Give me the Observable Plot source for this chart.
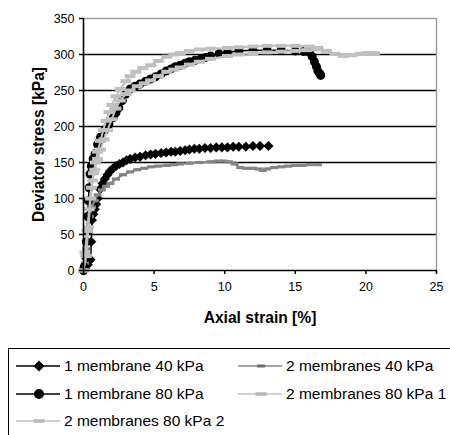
<!DOCTYPE html>
<html>
<head>
<meta charset="utf-8">
<script src="https://cdn.jsdelivr.net/npm/d3@7"></script>
<script src="https://cdn.jsdelivr.net/npm/@observablehq/plot@0.6"></script>
<style>
  html, body { margin: 0; padding: 0; background: #fff; }
  body { position: relative; width: 450px; height: 435px; overflow: hidden; font-family: "Liberation Sans", Arial, sans-serif; }
  #chart { position: absolute; left: 0; top: 0; }
  #legend { position: absolute; left: 8px; top: 348px; width: 470px; height: 110px; border: 1.5px solid #000; box-sizing: border-box; }
  .item { position: absolute; height: 20px; display: flex; align-items: center; font-size: 15.5px; color: #000; white-space: nowrap; }
  .item svg { margin-right: 4px; }
</style>
</head>
<body>
<div id="chart"></div>
<div id="legend"></div>
<script>
// ---- data ----
const seriesNames = ["1 membrane 40 kPa", "2 membranes 40 kPa", "1 membrane 80 kPa", "2 membranes 80 kPa 1", "2 membranes 80 kPa 2"];

const strainA = [0, 0.1, 0.3, 0.5, 0.55, 0.6, 0.7, 0.8, 0.9, 1.0, 1.17, 1.35, 1.5, 1.7, 1.88, 2.1, 2.3, 2.55, 2.8, 3.05, 3.3, 3.65, 4.0, 4.4, 4.75, 5.1, 5.5, 5.85, 6.2, 6.5, 6.85, 7.2, 7.5, 7.85, 8.2, 8.6, 9.0, 9.4, 9.8, 10.2, 10.6, 11.0, 11.5, 12.0, 12.5, 13.1];
const stressA = [0, 3, 8, 15, 40, 70, 78, 85, 92, 100, 113, 121, 127, 133, 138, 142, 145, 148, 150, 153, 155, 157, 158, 160, 161, 162, 163, 164, 165, 165, 166, 167, 168, 169, 169, 170, 170, 171, 171, 171, 172, 172, 172, 173, 173, 173];

const strainC = [0, 0.1, 0.2, 0.3, 0.45, 0.6, 0.8, 1.0, 1.3, 1.6, 1.9, 2.3, 2.8, 3.3, 3.8, 4.3, 4.8, 5.3, 5.9, 6.4, 6.85, 7.5, 8.2, 9.0, 9.5, 9.9, 10.3, 10.7, 11.1, 11.5, 12.0, 12.4, 12.7, 13.0, 13.5, 14.0, 14.5, 15.0, 15.5, 16.0, 16.6];
const stressC = [0, 10, 30, 55, 75, 88, 97, 105, 112, 117, 121, 127, 133, 137, 140, 142, 144, 145, 146, 147, 148, 149, 150, 151, 152, 152, 151, 148, 143, 142, 142, 141, 139, 141, 143, 144, 145, 146, 146, 147, 147];

const strainB = [0, 0.05, 0.12, 0.2, 0.25, 0.3, 0.35, 0.4, 0.46, 0.55, 0.68, 0.82, 1.0, 1.2, 1.5, 1.8, 2.1, 2.3, 2.5, 2.75, 3.0, 3.3, 3.65, 4.0, 4.4, 4.75, 5.1, 5.5, 5.85, 6.2, 6.5, 6.85, 7.2, 7.5, 7.9, 8.3, 8.65, 9.0, 9.6, 10.2, 11.0, 12.0, 13.0, 14.0, 15.0, 15.6, 16.0, 16.2, 16.35, 16.5, 16.6, 16.75, 16.8];
const stressB = [0, 5, 20, 40, 55, 75, 97, 115, 134, 145, 155, 162, 175, 185, 195, 203, 212, 219, 226, 236, 245, 252, 256, 259, 263, 266, 269, 273, 277, 280, 283, 285, 288, 290, 292, 294, 296, 298, 301, 303, 305, 306, 306, 306, 305, 304, 303, 297, 290, 283, 277, 273, 271];

const strainD = [0, 0.1, 0.25, 0.4, 0.55, 0.7, 0.85, 1.0, 1.2, 1.4, 1.6, 1.8, 2.0, 2.3, 2.6, 3.0, 3.3, 3.7, 4.2, 4.75, 5.3, 5.9, 6.4, 6.85, 7.5, 8.2, 9.0, 10.2, 11.0, 12.0, 13.0, 14.0, 15.0, 16.0, 16.6, 17.2, 17.8, 18.4, 19.0, 19.6, 20.1, 20.6];
const stressD = [0, 25, 55, 85, 115, 135, 150, 165, 180, 195, 208, 220, 230, 242, 252, 263, 270, 276, 281, 285, 291, 297, 300, 302, 305, 307, 308, 309, 310, 311, 312, 312, 312, 311, 309, 305, 301, 298, 299, 301, 302, 302];

const strainE = [0, 0.2, 0.35, 0.5, 0.65, 0.8, 1.0, 1.2, 1.45, 1.7, 2.0, 2.3, 2.6, 3.0, 3.3, 3.8, 4.3, 4.75, 5.3, 5.9, 6.4, 6.85, 7.5, 8.2, 9.0, 10.2, 11.0, 12.0, 13.0, 14.0, 15.0, 15.8, 16.5];
const stressE = [0, 20, 60, 100, 125, 140, 155, 168, 182, 195, 210, 225, 236, 245, 250, 256, 260, 264, 270, 276, 279, 282, 286, 290, 294, 298, 300, 302, 303, 304, 305, 306, 307];

const xTicks = [0, 5, 10, 15, 20, 25];
const yTicks = [0, 50, 100, 150, 200, 250, 300, 350];
const xTitle = "Axial strain [%]";
const yTitle = "Deviator stress [kPa]";

// ---- build tables ----
const toRows = (xs, ys) => xs.map((x, i) => ({x, y: ys[i]}));
const A = toRows(strainA, stressA);
const C = toRows(strainC, stressC);
const B = toRows(strainB, stressB);
const D = toRows(strainD, stressD);
const E = toRows(strainE, stressE);

const BLACK = "#000";
const DARK = "#858585";
const LIGHT = "#c0c0c0";

const dashBig = {draw(ctx) { ctx.rect(-5.5, -2, 11, 4); }};
const dashSmall = {draw(ctx) { ctx.rect(-4, -1.6, 8, 3.2); }};

const chart = Plot.plot({
  width: 450,
  height: 340,
  marginTop: 18,
  marginBottom: 70,
  marginLeft: 83,
  marginRight: 14,
  style: {fontFamily: "'Liberation Sans', Arial, sans-serif", fontSize: "12.5px", color: "#000", background: "#fff"},
  x: {domain: [0, 25]},
  y: {domain: [0, 350]},
  marks: [
    Plot.gridY(yTicks.filter(d => d > 0 && d < 350), {stroke: BLACK, strokeOpacity: 1, strokeWidth: 1.6}),
    Plot.ruleY([350], {stroke: "#a0a0a0", strokeWidth: 1.5}),
    Plot.ruleX([25], {stroke: "#a0a0a0", strokeWidth: 1.5}),
    // 1 membrane 40 kPa
    Plot.line(A, {x: "x", y: "y", stroke: BLACK, strokeWidth: 1.6}),
    Plot.dot(A, {x: "x", y: "y", symbol: "diamond2", r: 4.3, fill: BLACK, stroke: BLACK, strokeWidth: 0.5}),
    // 2 membranes 40 kPa
    Plot.line(C, {x: "x", y: "y", stroke: DARK, strokeWidth: 2}),
    Plot.dot(C, {x: "x", y: "y", symbol: dashSmall, r: 3, fill: DARK, stroke: "none"}),
    // 1 membrane 80 kPa
    Plot.line(B, {x: "x", y: "y", stroke: BLACK, strokeWidth: 1.6}),
    Plot.dot(B, {x: "x", y: "y", r: 4.5, fill: BLACK, stroke: "none"}),
    // 2 membranes 80 kPa 1
    Plot.line(D, {x: "x", y: "y", stroke: LIGHT, strokeWidth: 2}),
    Plot.dot(D, {x: "x", y: "y", symbol: dashBig, r: 3, fill: LIGHT, stroke: "none"}),
    // 2 membranes 80 kPa 2
    Plot.line(E, {x: "x", y: "y", stroke: LIGHT, strokeWidth: 2}),
    Plot.dot(E, {x: "x", y: "y", symbol: dashBig, r: 3, fill: LIGHT, stroke: "none"}),
    // axes
    Plot.axisY({ticks: yTicks, tickSize: 4, tickPadding: 5, label: null, stroke: BLACK, strokeWidth: 1.5}),
    Plot.axisX({ticks: xTicks, tickSize: 4, tickPadding: 8, label: null, stroke: BLACK, strokeWidth: 1.5}),
    Plot.ruleX([0], {stroke: BLACK, strokeWidth: 1.6}),
    Plot.ruleY([0], {stroke: BLACK, strokeWidth: 1.6}),
    Plot.text([xTitle], {frameAnchor: "bottom", lineAnchor: "middle", dy: 47, text: d => d, fontWeight: "bold", fontSize: 15.6, fill: BLACK}),
    Plot.text([yTitle], {frameAnchor: "left", textAnchor: "middle", lineAnchor: "middle", dx: -45, rotate: -90, text: d => d, fontWeight: "bold", fontSize: 15.6, fill: BLACK})
  ]
});
document.getElementById("chart").appendChild(chart);

// ---- legend ----
const legendItems = [
  {name: seriesNames[0], color: BLACK, lw: 1.6, marker: "diamond", col: 0, row: 0},
  {name: seriesNames[1], color: DARK, lw: 1.5, marker: "dashSmall", mcolor: "#6e6e6e", col: 1, row: 0},
  {name: seriesNames[2], color: BLACK, lw: 1.6, marker: "circle", col: 0, row: 1},
  {name: seriesNames[3], color: LIGHT, lw: 1.5, marker: "dashBig", mcolor: "#b8b8b8", col: 1, row: 1},
  {name: seriesNames[4], color: LIGHT, lw: 1.5, marker: "dashBig", mcolor: "#b8b8b8", col: 0, row: 2}
];
const legend = document.getElementById("legend");
const colX = [6, 228];
const rowY = [7, 35, 62];
for (const it of legendItems) {
  const div = document.createElement("div");
  div.className = "item";
  div.style.left = colX[it.col] + "px";
  div.style.top = rowY[it.row] + "px";
  let m = "";
  const cx = 24, cy = 10;
  if (it.marker === "diamond") m = `<path d="M${cx},${cy-5.5}L${cx+5.5},${cy}L${cx},${cy+5.5}L${cx-5.5},${cy}Z" fill="#000"/>`;
  else if (it.marker === "circle") m = `<circle cx="${cx}" cy="${cy}" r="5" fill="#000"/>`;
  else if (it.marker === "dashSmall") m = `<rect x="${cx-4}" y="${cy-1.5}" width="8" height="3" fill="${it.mcolor}"/>`;
  else m = `<rect x="${cx-5.5}" y="${cy-1.8}" width="11" height="3.6" fill="${it.mcolor}"/>`;
  div.innerHTML = `<svg width="45" height="20"><line x1="1" x2="45" y1="${cy}" y2="${cy}" stroke="${it.color}" stroke-width="${it.lw}"/>${m}</svg><span>${it.name}</span>`;
  legend.appendChild(div);
}
</script>
</body>
</html>
